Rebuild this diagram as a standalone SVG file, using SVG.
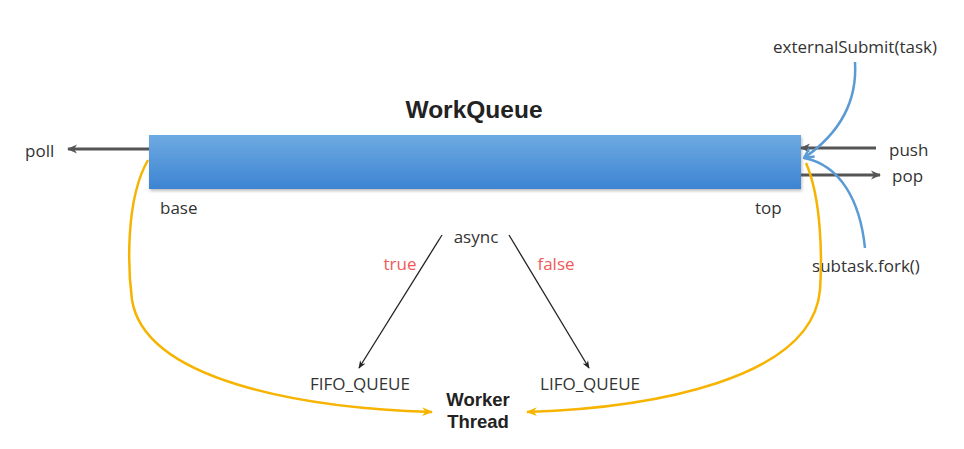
<svg xmlns="http://www.w3.org/2000/svg" width="964" height="449" viewBox="0 0 964 449">
<defs>
<linearGradient id="barg" x1="0" y1="0" x2="0" y2="1">
<stop offset="0" stop-color="#6eaae2"/>
<stop offset="1" stop-color="#3d84d2"/>
</linearGradient>
<filter id="sh" x="-5%" y="-20%" width="110%" height="150%">
<feDropShadow dx="1" dy="2" stdDeviation="1.5" flood-color="#000" flood-opacity="0.25"/>
</filter>
<marker id="ag" viewBox="0 0 10 10" refX="9" refY="5" markerWidth="11" markerHeight="10" orient="auto-start-reverse" markerUnits="userSpaceOnUse"><path d="M0,0.5 L10,5 L0,9.5 L3,5 Z" fill="#555"/></marker>
<marker id="ak" viewBox="0 0 10 10" refX="9" refY="5" markerWidth="8" markerHeight="8" orient="auto" markerUnits="userSpaceOnUse"><path d="M0,1 L10,5 L0,9 L3,5 Z" fill="#222"/></marker>
<marker id="ay" viewBox="0 0 10 10" refX="9" refY="5" markerWidth="11" markerHeight="11" orient="auto" markerUnits="userSpaceOnUse"><path d="M0,1 L10,5 L0,9 L3,5 Z" fill="#f6b400"/></marker>
<marker id="ab" viewBox="0 0 10 10" refX="9" refY="5" markerWidth="12" markerHeight="12" orient="auto" markerUnits="userSpaceOnUse"><path d="M1,1 L9,5 L1,9" fill="none" stroke="#5b9bd5" stroke-width="2"/></marker>
</defs>
<style>
text{font-family:"Open Sans","Liberation Sans",sans-serif;font-size:17px;fill:#333}
.b{font-weight:bold;fill:#222;font-family:"Liberation Sans",sans-serif}
.r{fill:#f05a5a}
.g{stroke:#555;stroke-width:2.8;fill:none}
.k{stroke:#222;stroke-width:1.3;fill:none}
.y{stroke:#f6b400;stroke-width:2.5;fill:none}
.bl{stroke:#5b9bd5;stroke-width:2.5;fill:none}
</style>
<rect width="964" height="449" fill="#fff"/>
<g id="workqueue">
<rect x="149" y="135" width="652" height="54" fill="url(#barg)" filter="url(#sh)"/>
<text x="474" y="118" class="b" text-anchor="middle" style="font-size:24.5px">WorkQueue</text>
<text x="160" y="214">base</text>
<text x="755" y="214">top</text>
</g>
<g id="poll"><text x="25" y="157">poll</text></g>
<g id="push"><text x="889" y="156">push</text></g>
<g id="pop"><text x="892" y="182">pop</text></g>
<g id="externalSubmit"><text x="855" y="53" text-anchor="middle">externalSubmit(task)</text></g>
<g id="fork"><text x="866" y="272" text-anchor="middle">subtask.fork()</text></g>
<g id="async"><text x="476" y="243" text-anchor="middle">async</text></g>
<g id="fifo"><text x="360" y="390" text-anchor="middle">FIFO_QUEUE</text></g>
<g id="lifo"><text x="590" y="390" text-anchor="middle">LIFO_QUEUE</text></g>
<g id="worker">
<text x="478" y="406" class="b" text-anchor="middle" style="font-size:18.5px">Worker</text>
<text x="478" y="428" class="b" text-anchor="middle" style="font-size:18.5px">Thread</text>
</g>
<g id="connectors">
<line x1="149" y1="149" x2="68" y2="149" class="g" marker-end="url(#ag)"/>
<line x1="876" y1="148" x2="801" y2="148" class="g" marker-end="url(#ag)"/>
<line x1="801" y1="175" x2="880" y2="175" class="g" marker-end="url(#ag)"/>
<path d="M855,62 C858,110 830,140 804,158" class="bl" marker-end="url(#ab)"/>
<path d="M865,248 C860,200 840,165 804,158" class="bl"/>
<path d="M442,235 L359,368" class="k" marker-end="url(#ak)"/>
<path d="M509,235 L589,368" class="k" marker-end="url(#ak)"/>
<text x="400" y="270" class="r" text-anchor="middle">true</text>
<text x="556" y="270" class="r" text-anchor="middle">false</text>
<path d="M148,160 C125,200 128,270 132,300 C145,380 300,408 432,412" class="y" marker-end="url(#ay)"/>
<path d="M806,163 C822,200 822,260 820,290 C812,380 650,408 527,412" class="y" marker-end="url(#ay)"/>
</g>
</svg>
